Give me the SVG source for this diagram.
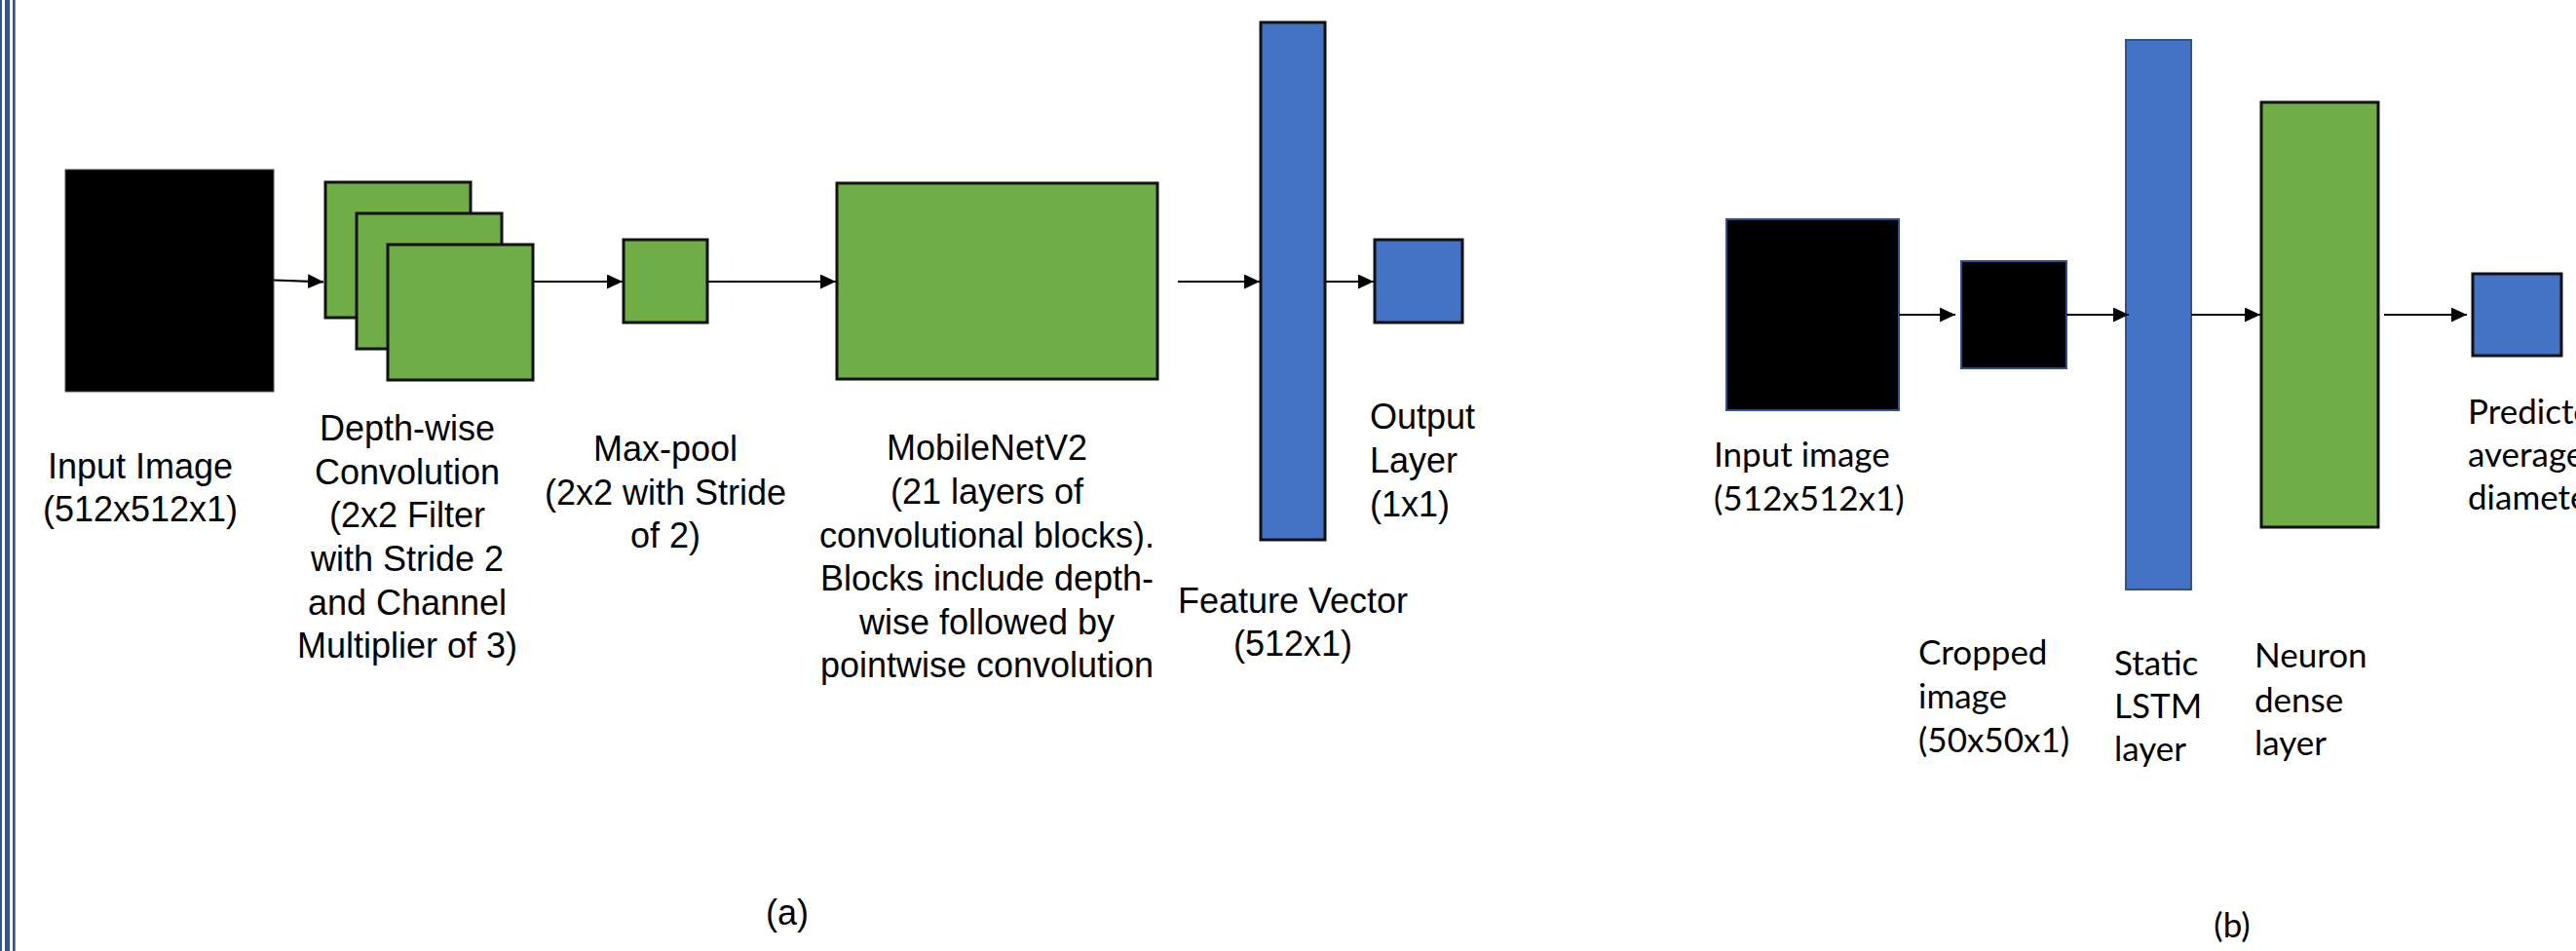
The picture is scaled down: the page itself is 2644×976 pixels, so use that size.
<svg xmlns="http://www.w3.org/2000/svg" width="2644" height="976" viewBox="0 0 2644 976">
  <style>
    .a { font-family: "Liberation Sans", Arial, sans-serif; font-size: 36px; fill: #000; }
    .b { font-family: Lato, "Open Sans", sans-serif; font-size: 35px; fill: #000; }
    .mid { text-anchor: middle; }
    .green { fill: #70ad47; stroke: #111; stroke-width: 3; }
    .blue { fill: #4472c4; stroke: #111; stroke-width: 3; }
    .blueEdge { fill: #4472c4; stroke: #2f528f; stroke-width: 2; }
    .img { fill: #000; stroke: #2f528f; stroke-width: 2; }
    .conn line { stroke: #000; stroke-width: 2.2; marker-end: url(#arrow); }
    .border { fill: #2f5597; }
  </style>
  <defs>
    <marker id="arrow" markerUnits="userSpaceOnUse" markerWidth="16" markerHeight="16" refX="16" refY="7.5" orient="auto">
      <path d="M0,0 L16,7.5 L0,15 z" fill="#000"/>
    </marker>
  </defs>

  <rect width="2644" height="976" fill="#fff"/>

  <!-- page border rules on the left edge -->
  <g id="border">
    <rect class="border" x="0" y="0" width="2" height="976"/>
    <rect class="border" x="5" y="0" width="5" height="976"/>
    <rect class="border" x="13" y="0" width="2.7" height="976"/>
  </g>

  <!-- (a) MobileNetV2 pipeline -->
  <g id="a-input">
    <rect x="67" y="174" width="214" height="228" fill="#000" stroke="#555" stroke-width="1"/>
    <text class="a mid" x="144" y="491">Input Image</text>
    <text class="a mid" x="144" y="535">(512x512x1)</text>
  </g>

  <g id="a-depthwise">
    <rect class="green" x="334" y="187" width="149" height="139"/>
    <rect class="green" x="366" y="219" width="149" height="139"/>
    <rect class="green" x="398" y="251" width="149" height="139"/>
    <text class="a mid" x="418" y="452">Depth-wise</text>
    <text class="a mid" x="418" y="497">Convolution</text>
    <text class="a mid" x="418" y="541">(2x2 Filter</text>
    <text class="a mid" x="418" y="586">with Stride 2</text>
    <text class="a mid" x="418" y="631">and Channel</text>
    <text class="a mid" x="418" y="675">Multiplier of 3)</text>
  </g>

  <g id="a-maxpool">
    <rect class="green" x="640" y="246" width="86" height="85"/>
    <text class="a mid" x="683" y="473">Max-pool</text>
    <text class="a mid" x="683" y="518">(2x2 with Stride</text>
    <text class="a mid" x="683" y="562">of 2)</text>
  </g>

  <g id="a-mobilenet">
    <rect class="green" x="859" y="188" width="329" height="201"/>
    <text class="a mid" x="1013" y="472">MobileNetV2</text>
    <text class="a mid" x="1013" y="517">(21 layers of</text>
    <text class="a mid" x="1013" y="562">convolutional blocks).</text>
    <text class="a mid" x="1013" y="606">Blocks include depth-</text>
    <text class="a mid" x="1013" y="651">wise followed by</text>
    <text class="a mid" x="1013" y="695">pointwise convolution</text>
  </g>

  <g id="a-feature">
    <rect class="blue" x="1294" y="23" width="66" height="531"/>
    <text class="a mid" x="1327" y="629">Feature Vector</text>
    <text class="a mid" x="1327" y="673">(512x1)</text>
  </g>

  <g id="a-output">
    <rect class="blue" x="1411" y="246" width="90" height="85"/>
    <text class="a" x="1406" y="440">Output</text>
    <text class="a" x="1406" y="485">Layer</text>
    <text class="a" x="1406" y="530">(1x1)</text>
  </g>

  <g id="a-caption">
    <text class="a mid" x="808" y="949">(a)</text>
  </g>

  <!-- (b) LSTM regression pipeline -->
  <g id="b-input">
    <rect class="img" x="1772" y="225" width="177" height="196"/>
    <text class="b" x="1759" y="479">Input image</text>
    <text class="b" x="1759" y="524">(512x512x1)</text>
  </g>

  <g id="b-crop">
    <rect class="img" x="2013" y="268" width="108" height="110"/>
    <text class="b" x="1969" y="682">Cropped</text>
    <text class="b" x="1969" y="727">image</text>
    <text class="b" x="1969" y="772">(50x50x1)</text>
  </g>

  <g id="b-lstm">
    <rect class="blueEdge" x="2182" y="41" width="67" height="564"/>
    <text class="b" x="2170" y="693">Static</text>
    <text class="b" x="2170" y="737">LSTM</text>
    <text class="b" x="2170" y="781">layer</text>
  </g>

  <g id="b-dense">
    <rect class="green" x="2321" y="105" width="120" height="436"/>
    <text class="b" x="2314" y="685">Neuron</text>
    <text class="b" x="2314" y="731">dense</text>
    <text class="b" x="2314" y="775">layer</text>
  </g>

  <g id="b-predicted">
    <rect class="blue" x="2538" y="281" width="91" height="84"/>
    <text class="b" x="2533" y="435">Predicted</text>
    <text class="b" x="2533" y="479">average</text>
    <text class="b" x="2533" y="523">diameter</text>
  </g>

  <g id="b-caption">
    <text class="b mid" x="2291" y="962">(b)</text>
  </g>

  <!-- connectors -->
  <g id="connectors" class="conn">
    <line x1="281" y1="287.5" x2="332" y2="289.3"/>
    <line x1="547" y1="289" x2="639" y2="289"/>
    <line x1="726" y1="289" x2="858" y2="289"/>
    <line x1="1209" y1="289" x2="1293" y2="289"/>
    <line x1="1360" y1="289" x2="1410" y2="289"/>
    <line x1="1949" y1="323" x2="2007" y2="323"/>
    <line x1="2121" y1="323" x2="2185" y2="323"/>
    <line x1="2249" y1="323" x2="2320" y2="323"/>
    <line x1="2447" y1="323" x2="2532" y2="323"/>
  </g>
</svg>
